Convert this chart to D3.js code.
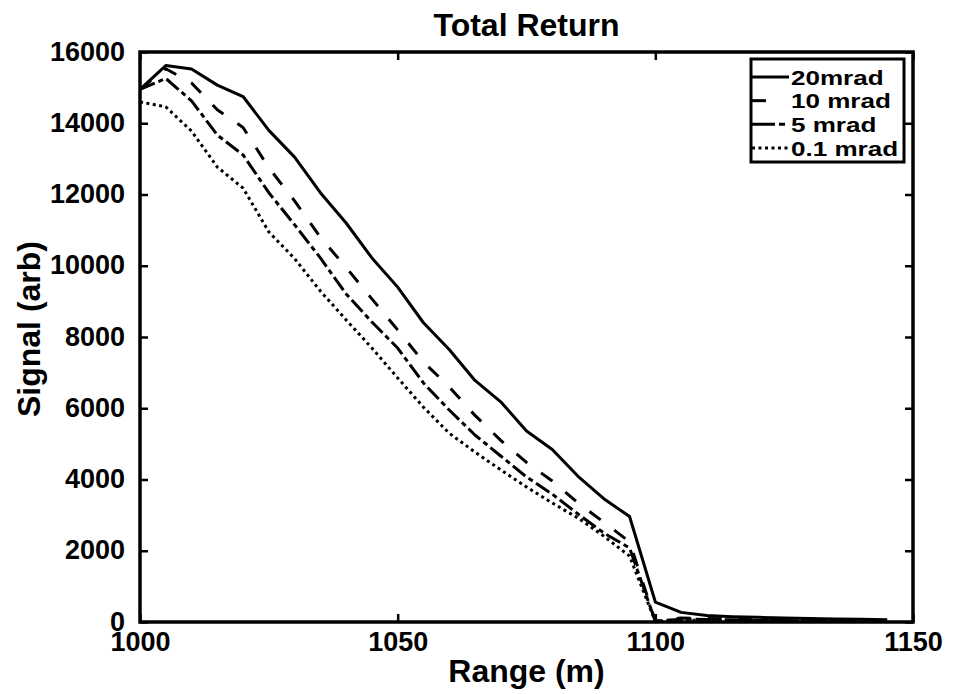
<!DOCTYPE html>
<html>
<head>
<meta charset="utf-8">
<script src="https://cdn.jsdelivr.net/npm/d3@7"></script>
<style>
  html, body { margin: 0; padding: 0; background: #fff; }
  svg { display: block; }
  text { font-family: "Liberation Sans", Arial, Helvetica, sans-serif; font-weight: bold; }
</style>
</head>
<body>
<script>
// Range samples (m), every 5 m
const range = [1000, 1005, 1010, 1015, 1020, 1025, 1030, 1035, 1040, 1045,
               1050, 1055, 1060, 1065, 1070, 1075, 1080, 1085, 1090, 1095,
               1100, 1105, 1110, 1115, 1120, 1125, 1130, 1135, 1140, 1145];

// Total return signal (arb) for each divergence
const signal20 = [14950, 15620, 15520, 15070, 14750, 13800, 13050, 12050, 11200, 10220,
                  9400, 8400, 7650, 6780, 6180, 5360, 4840, 4090, 3460, 2960,
                  560, 270, 180, 150, 130, 110, 95, 85, 75, 65];
const signal10 = [14950, 15530, 15130, 14380, 13880, 12750, 11820, 10800, 9950, 9070,
                  8200, 7300, 6600, 5800, 5100, 4480, 3960, 3340, 2800, 2250,
                  30, 110, 100, 80, 60, 50, 40, 35, 30, 25];
const signal5 = [14950, 15260, 14630, 13670, 13110, 12050, 11150, 10220, 9210, 8420,
                 7690, 6710, 5950, 5250, 4660, 4070, 3590, 3030, 2500, 2080,
                 20, 80, 70, 60, 45, 40, 30, 25, 20, 20];
const signal01 = [14600, 14460, 13780, 12770, 12180, 10950, 10200, 9290, 8480, 7690,
                  6850, 6030, 5300, 4770, 4270, 3790, 3340, 2920, 2410, 1850,
                  10, 50, 45, 40, 30, 25, 20, 20, 15, 15];

const seriesNames = ["20mrad", "10 mrad", "5 mrad", "0.1 mrad"];
const seriesValues = [signal20, signal10, signal5, signal01];

const xTicks = [1000, 1050, 1100, 1150];
const yTicks = [0, 2000, 4000, 6000, 8000, 10000, 12000, 14000, 16000];

// Line styles: solid, dashed, dash-dot, dotted
const lineDash = [null, "14,17", "16,4,5,4", "3,3.5"];
const legendDash = [null, "14,40", "23,4,6,10", "3,3.5"];

const W = 953, H = 694;
const plot = { left: 140, right: 913, top: 52, bottom: 622 };

const svg = d3.select("body").append("svg")
  .attr("width", W).attr("height", H);

const x = d3.scaleLinear().domain([1000, 1150]).range([plot.left, plot.right]);
const y = d3.scaleLinear().domain([0, 16000]).range([plot.bottom, plot.top]);

// Data lines
const line = d3.line().x((d, i) => x(range[i])).y(d => y(d));
const lines = svg.append("g").attr("fill", "none").attr("stroke", "#000")
  .attr("stroke-width", 3).attr("stroke-linejoin", "round");
seriesValues.forEach((vals, k) => {
  lines.append("path")
    .attr("d", line(vals))
    .attr("stroke-dasharray", lineDash[k]);
});

// Axes with inward ticks on all four sides
const tickLen = 8;
const fs = 27;
const gx = svg.append("g").attr("transform", `translate(0,${plot.bottom})`)
  .call(d3.axisBottom(x).tickValues(xTicks).tickFormat(d3.format("d"))
        .tickSizeInner(-tickLen).tickSizeOuter(0).tickPadding(10));
const gxt = svg.append("g").attr("transform", `translate(0,${plot.top})`)
  .call(d3.axisTop(x).tickValues(xTicks).tickFormat("")
        .tickSizeInner(-tickLen).tickSizeOuter(0));
const gy = svg.append("g").attr("transform", `translate(${plot.left},0)`)
  .call(d3.axisLeft(y).tickValues(yTicks).tickFormat(d3.format("d"))
        .tickSizeInner(-tickLen).tickSizeOuter(0).tickPadding(15));
const gyr = svg.append("g").attr("transform", `translate(${plot.right},0)`)
  .call(d3.axisRight(y).tickValues(yTicks).tickFormat("")
        .tickSizeInner(-tickLen).tickSizeOuter(0));

[gx, gxt, gy, gyr].forEach(g => {
  g.select(".domain").remove();
  g.selectAll(".tick line").attr("stroke", "#000").attr("stroke-width", 2.5);
  g.selectAll(".tick text").attr("fill", "#000").attr("font-size", fs)
    .attr("font-family", null);
});
gx.selectAll(".tick text").attr("dy", "0.71em");
gy.selectAll(".tick text").attr("dy", "0.3em");

// Axes box
svg.append("rect")
  .attr("x", plot.left).attr("y", plot.top)
  .attr("width", plot.right - plot.left).attr("height", plot.bottom - plot.top)
  .attr("fill", "none").attr("stroke", "#000").attr("stroke-width", 3.5);

// Titles
const cx = (plot.left + plot.right) / 2;
svg.append("text")
  .attr("x", cx).attr("y", 36)
  .attr("text-anchor", "middle").attr("font-size", 32)
  .text("Total Return");

svg.append("text")
  .attr("x", cx).attr("y", 682)
  .attr("text-anchor", "middle").attr("font-size", 32)
  .text("Range (m)");

svg.append("text")
  .attr("transform", `translate(40,${(plot.top + plot.bottom) / 2 - 8}) rotate(-90)`)
  .attr("text-anchor", "middle").attr("font-size", 32)
  .text("Signal (arb)");

// Legend
const leg = { x: 751, y: 59, w: 153, h: 103 };
const lg = svg.append("g");
lg.append("rect")
  .attr("x", leg.x).attr("y", leg.y).attr("width", leg.w).attr("height", leg.h)
  .attr("fill", "#fff").attr("stroke", "#000").attr("stroke-width", 3);
const rowY = d3.scaleLinear().domain([0, 3]).range([leg.y + 18, leg.y + 89]);
seriesNames.forEach((name, k) => {
  const ry = rowY(k);
  lg.append("line")
    .attr("x1", leg.x + 1).attr("x2", leg.x + 38)
    .attr("y1", ry).attr("y2", ry)
    .attr("stroke", "#000").attr("stroke-width", 3)
    .attr("stroke-dasharray", legendDash[k]);
  lg.append("text")
    .attr("transform", `translate(${leg.x + 40},${ry + 7.5}) scale(1.27,1)`)
    .attr("font-size", 20.5)
    .text(name);
});
</script>
</body>
</html>
